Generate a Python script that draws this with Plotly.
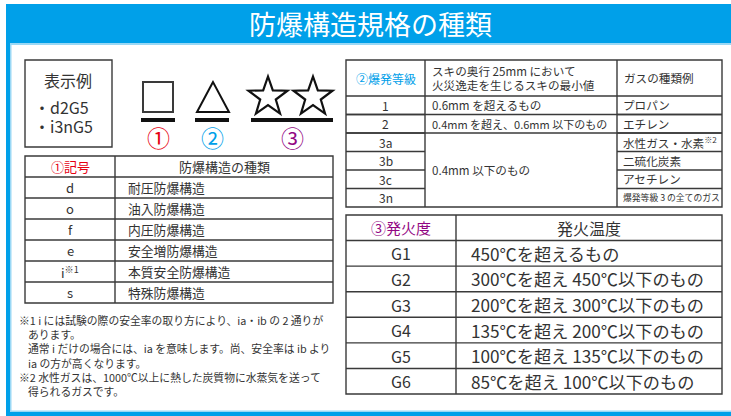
import math
import plotly.graph_objects as go

W, H = 731, 416
FONT = "Noto Sans CJK JP"
TXT = "#333333"
LINE = "#3a3a3a"
BLUE = "#00a0e9"
RED = "#e60012"
PURPLE = "#920783"

TITLE = "防爆構造規格の種類"
example_label = "表示例"
example_codes = ["・d2G5", "・i3nG5"]
marker_numbers = ["①", "②", "③"]

t1_header = ["①記号", "防爆構造の種類"]
t1_symbols = ["d", "o", "f", "e", "i<sup>※1</sup>", "s"]
t1_names = ["耐圧防爆構造", "油入防爆構造", "内圧防爆構造", "安全増防爆構造", "本質安全防爆構造", "特殊防爆構造"]

t2_header_grade = "②爆発等級"
t2_header_gap = ["スキの奥行 25mm において", "火災逸走を生じるスキの最小値"]
t2_header_gas = "ガスの種類例"
t2_grades = ["1", "2", "3a", "3b", "3c", "3n"]
t2_gaps = ["0.6mm を超えるもの", "0.4mm を超え、0.6mm 以下のもの", "0.4mm 以下のもの"]
t2_gap_span = [1, 1, 4]
t2_gases = ["プロパン", "エチレン", "水性ガス・水素<sup>※2</sup>", "二硫化炭素", "アセチレン", "爆発等級 3 の全てのガス"]

t3_header = ["③発火度", "発火温度"]
t3_classes = ["G1", "G2", "G3", "G4", "G5", "G6"]
t3_temps = ["450℃を超えるもの", "300℃を超え 450℃以下のもの", "200℃を超え 300℃以下のもの",
            "135℃を超え 200℃以下のもの", "100℃を超え 135℃以下のもの", "85℃を超え 100℃以下のもの"]

notes = [("※1 i には試験の際の安全率の取り方により、ia・ib の 2 通りが", 0),
         ("あります。", 1),
         ("通常 i だけの場合には、ia を意味します。尚、安全率は ib より", 1),
         ("ia の方が高くなります。", 1),
         ("※2 水性ガスは、1000℃以上に熱した炭質物に水蒸気を送って", 0),
         ("得られるガスです。", 1)]

shapes = []
ann = []


def line(x0, y0, x1, y1, w=1.4, c=LINE):
    shapes.append(dict(type="line", x0=x0, y0=y0, x1=x1, y1=y1, line=dict(color=c, width=w)))


def rect(x0, y0, x1, y1, fill=None, lc=LINE, w=1.4):
    d = dict(type="rect", x0=x0, y0=y0, x1=x1, y1=y1, line=dict(color=lc, width=w))
    if fill:
        d["fillcolor"] = fill
    if w == 0:
        d["line"] = dict(width=0)
    shapes.append(d)


def text(x, y, s, size=13, color=TXT, anchor="center"):
    ann.append(dict(x=x, y=y, text=s, showarrow=False, xanchor=anchor, yanchor="middle",
                    font=dict(family=FONT, size=size, color=color)))


# frame
rect(6, 4, 731, 43, fill=BLUE, w=0)
rect(6, 43, 731, 45, fill="#9ad8f5", w=0)
rect(6, 43, 10, 416, fill=BLUE, w=0)
rect(10, 45, 11.5, 411, fill="#9ad8f5", w=0)
rect(10, 410.5, 731, 412, fill="#9ad8f5", w=0)
rect(6, 412, 731, 416, fill=BLUE, w=0)
text(370, 23, TITLE, size=27, color="white")

# example box
rect(25, 60, 112, 147, w=1.4)
text(68, 80, example_label, size=16)
for i, c in enumerate(example_codes):
    text(32, 107 + i * 19, c, size=16, anchor="left")

# symbols
rect(143, 82, 173, 112, w=2)
shapes.append(dict(type="path", path="M 213 82 L 197 112 L 229 112 Z", line=dict(color="#111", width=2)))


def star(cx, cy, R):
    r = R * 0.40
    pts = []
    for k in range(10):
        ang = math.radians(-90 + 36 * k)
        rr = R if k % 2 == 0 else r
        pts.append((cx + rr * math.cos(ang), cy + rr * math.sin(ang)))
    return "M " + " L ".join(f"{x:.2f} {y:.2f}" for x, y in pts) + " Z"


for cx in (268, 313):
    shapes.append(dict(type="path", path=star(cx, 97, 20.5), line=dict(color="#111", width=2.2)))
for x0, x1 in ((141, 175), (195, 229), (251, 333)):
    rect(x0, 118, x1, 122, fill="#111", w=0)
for (cx, col), n in zip(((158, RED), (212, BLUE), (292, PURPLE)), marker_numbers):
    text(cx, 137, n, size=23, color=col)

# table 1
tx0, tx1, tx2, ty0, trh = 25, 115, 333, 156, 21
n1 = len(t1_names) + 1
rect(tx0, ty0, tx2, ty0 + n1 * trh)
line(tx1, ty0, tx1, ty0 + n1 * trh)
for i in range(1, n1):
    line(tx0, ty0 + i * trh, tx2, ty0 + i * trh)
text((tx0 + tx1) / 2, ty0 + trh / 2, t1_header[0], size=13, color=RED)
text((tx1 + tx2) / 2, ty0 + trh / 2, t1_header[1], size=13)
for i, (s, nm) in enumerate(zip(t1_symbols, t1_names)):
    yc = ty0 + (i + 1.5) * trh
    text((tx0 + tx1) / 2, yc, s, size=13)
    text(126, yc, nm, size=12.8, anchor="left")

# notes
for i, (s, ind) in enumerate(notes):
    text(17 if ind == 0 else 26, 320 + i * 14.2, s, size=10.8, anchor="left")

# table 2
ax0, ax1, ax2, ax3 = 346, 425, 617, 722
ay0, ayh = 60, 96
arh = 18.5
ab = ayh + arh * len(t2_grades)
rect(ax0, ay0, ax3, ab)
line(ax1, ay0, ax1, ab)
line(ax2, ay0, ax2, ab)
line(ax0, ayh, ax3, ayh)
row = 0
for sp in t2_gap_span:
    row += sp
    if row < len(t2_grades):
        line(ax0, ayh + row * arh, ax3, ayh + row * arh)
for i in range(1, len(t2_grades)):
    yy = ayh + i * arh
    line(ax0, yy, ax1, yy)
    line(ax2, yy, ax3, yy)
text((ax0 + ax1) / 2, (ay0 + ayh) / 2, t2_header_grade, size=12, color=BLUE)
for i, s in enumerate(t2_header_gap):
    text(430, 71 + i * 14, s, size=11.6, anchor="left")
text(622, (ay0 + ayh) / 2, t2_header_gas, size=11.6, anchor="left")
for i, g in enumerate(t2_grades):
    yc = ayh + (i + 0.5) * arh
    text((ax0 + ax1) / 2, yc, g, size=12)
    sz = 8.8 if i == len(t2_grades) - 1 else 11.6
    text(621, yc, t2_gases[i], size=sz, anchor="left")
row = 0
for s, sp in zip(t2_gaps, t2_gap_span):
    yc = ayh + (row + sp / 2) * arh
    text(430, yc, s, size=11 if "、" in s else 11.6, anchor="left")
    row += sp

# table 3
bx0, bx1, bx2 = 346, 456, 722
by0, bb = 215, 394
n3 = len(t3_classes) + 1
brh = (bb - by0) / n3
rect(bx0, by0, bx2, bb)
line(bx1, by0, bx1, bb)
for i in range(1, n3):
    line(bx0, by0 + i * brh, bx2, by0 + i * brh)
text((bx0 + bx1) / 2, by0 + brh / 2, t3_header[0], size=15, color=PURPLE)
text((bx1 + bx2) / 2, by0 + brh / 2, t3_header[1], size=16)
for i, (c, t) in enumerate(zip(t3_classes, t3_temps)):
    yc = by0 + (i + 1.5) * brh
    text((bx0 + bx1) / 2, yc, c, size=16)
    text(469, yc, t, size=17.2, anchor="left")

fig = go.Figure()
fig.update_layout(
    width=W, height=H, margin=dict(l=0, r=0, t=0, b=0),
    paper_bgcolor="white", plot_bgcolor="white",
    xaxis=dict(range=[0, W], visible=False, fixedrange=True),
    yaxis=dict(range=[H, 0], visible=False, fixedrange=True),
    shapes=shapes, annotations=ann, showlegend=False,
)
fig.write_html("out.html", config={"displayModeBar": False},
               post_script="document.body.style.margin='0';document.body.style.overflow='hidden';")
